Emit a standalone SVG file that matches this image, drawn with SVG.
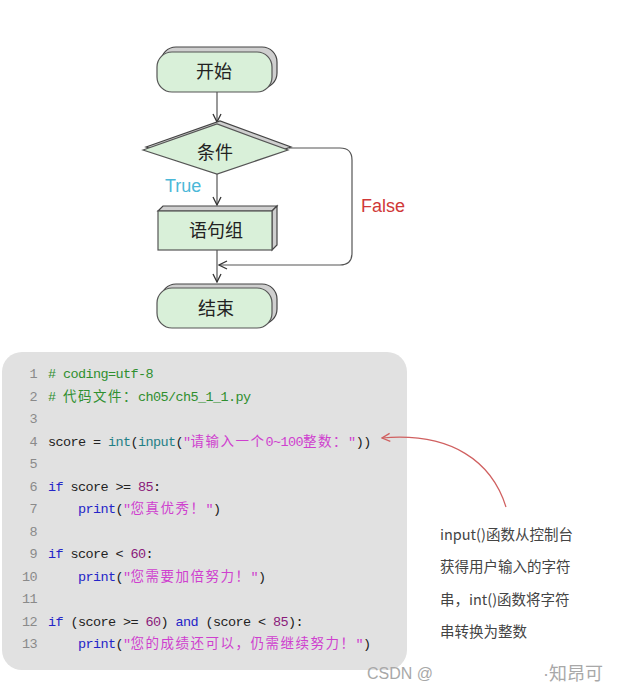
<svg xmlns="http://www.w3.org/2000/svg" width="621" height="692" viewBox="0 0 621 692">
<style>
.node{fill:#d9f0d9;stroke:#555;stroke-width:1.2}
.shd{fill:#cfcfcf;stroke:#444;stroke-width:1.2}
.lbl{font-family:"Noto Sans CJK SC","Noto Sans",sans-serif;font-size:18px;fill:#222;text-anchor:middle}
.conn{fill:none;stroke:#555;stroke-width:1.2}
.code{font-family:"Liberation Mono","DejaVu Sans Mono",monospace;font-size:13.5px;letter-spacing:-0.6px;fill:#222}
.ln{font-family:"Liberation Mono","DejaVu Sans Mono",monospace;font-size:13.5px;letter-spacing:-0.6px;fill:#8a8a8a;text-anchor:end}
.zh{font-family:"Noto Sans CJK SC",sans-serif;font-size:13.5px;letter-spacing:1.5px}
.cm{fill:#2f8f2f}
.kw{fill:#2424c8}
.bi{fill:#1f7f86}
.st{fill:#cf3fcf}
.num{fill:#8a1a7a}
.note{font-family:"Noto Sans CJK SC","Noto Sans",sans-serif;font-size:14.5px;fill:#444}
.wm{font-family:"Liberation Sans","Noto Sans CJK SC",sans-serif;fill:#a8a8a8}
</style>
<defs>
<marker id="ah" viewBox="0 0 10 10" refX="9" refY="5" markerWidth="10" markerHeight="10" markerUnits="userSpaceOnUse" orient="auto">
<path d="M1,1 L9,5 L1,9" fill="none" stroke="#333" stroke-width="1.3"/>
</marker>
<marker id="ahr" viewBox="0 0 10 10" refX="9" refY="5" markerWidth="10" markerHeight="10" markerUnits="userSpaceOnUse" orient="auto">
<path d="M1,1 L9,5 L1,9" fill="none" stroke="#d06060" stroke-width="1.3"/>
</marker>
</defs>
<rect width="621" height="692" fill="#ffffff"/>

<g id="connectors">
<path class="conn" d="M217,92 V122" marker-end="url(#ah)"/>
<path class="conn" d="M217,174 V205" marker-end="url(#ah)"/>
<path class="conn" d="M217,250 V282" marker-end="url(#ah)"/>
<path class="conn" d="M289,148 H340 Q352,148 352,160 V253 Q352,265 340,265 H219" marker-end="url(#ah)"/>
<text x="165" y="192" style="font-family:'Liberation Sans',sans-serif;font-size:18px;fill:#4bb8d8">True</text>
<text x="361" y="212" style="font-family:'Liberation Sans',sans-serif;font-size:18px;fill:#d03838">False</text>
</g>

<g id="start">
<rect class="shd" x="161" y="47" width="116" height="41" rx="15"/>
<rect class="node" x="157" y="52" width="115" height="40" rx="15"/>
<text class="lbl" x="214" y="78">开始</text>
</g>

<g id="cond">
<polygon class="shd" points="146,147 220,121 291,147 220,171"/>
<polygon class="node" points="143,150 217,124 288,150 217,174"/>
<text class="lbl" x="215" y="159">条件</text>
</g>

<g id="stmt">
<polygon class="shd" points="158,211 163,206 277,206 272,211"/>
<polygon class="shd" points="272,211 277,206 277,245 272,250"/>
<rect class="node" x="158" y="211" width="114" height="39"/>
<text class="lbl" x="216" y="237">语句组</text>
</g>

<g id="end">
<rect class="shd" x="161" y="284" width="116" height="40" rx="15"/>
<rect class="node" x="157" y="288" width="115" height="40" rx="15"/>
<text class="lbl" x="216" y="315">结束</text>
</g>

<g id="codepanel">
<rect x="2" y="352" width="405" height="318" rx="20" fill="#e1e1e1"/>
<text class="ln" x="37" y="378">1</text>
<text class="ln" x="37" y="400.5">2</text>
<text class="ln" x="37" y="423">3</text>
<text class="ln" x="37" y="445.5">4</text>
<text class="ln" x="37" y="468">5</text>
<text class="ln" x="37" y="490.5">6</text>
<text class="ln" x="37" y="513">7</text>
<text class="ln" x="37" y="535.5">8</text>
<text class="ln" x="37" y="558">9</text>
<text class="ln" x="37" y="580.5">10</text>
<text class="ln" x="37" y="603">11</text>
<text class="ln" x="37" y="625.5">12</text>
<text class="ln" x="37" y="648">13</text>

<text class="code" x="48" y="378" xml:space="preserve"><tspan class="cm"># coding=utf-8</tspan></text>
<text class="code" x="48" y="400.5" xml:space="preserve"><tspan class="cm"># <tspan class="zh">代码文件：</tspan>ch05/ch5_1_1.py</tspan></text>
<text class="code" x="48" y="445.5" xml:space="preserve">score = <tspan class="bi">int</tspan>(<tspan class="bi">input</tspan>(<tspan class="st">"<tspan class="zh">请输入一个</tspan>0~100<tspan class="zh">整数：</tspan>"</tspan>))</text>
<text class="code" x="48" y="490.5" xml:space="preserve"><tspan class="kw">if</tspan> score &gt;= <tspan class="num">85</tspan>:</text>
<text class="code" x="78" y="513" xml:space="preserve"><tspan class="kw">print</tspan>(<tspan class="st">"<tspan class="zh">您真优秀！</tspan>"</tspan>)</text>
<text class="code" x="48" y="558" xml:space="preserve"><tspan class="kw">if</tspan> score &lt; <tspan class="num">60</tspan>:</text>
<text class="code" x="78" y="580.5" xml:space="preserve"><tspan class="kw">print</tspan>(<tspan class="st">"<tspan class="zh">您需要加倍努力！</tspan>"</tspan>)</text>
<text class="code" x="48" y="625.5" xml:space="preserve"><tspan class="kw">if</tspan> (score &gt;= <tspan class="num">60</tspan>) <tspan class="kw">and</tspan> (score &lt; <tspan class="num">85</tspan>):</text>
<text class="code" x="78" y="648" xml:space="preserve"><tspan class="kw">print</tspan>(<tspan class="st">"<tspan class="zh">您的成绩还可以，仍需继续努力！</tspan>"</tspan>)</text>
</g>

<g id="annotation">
<path d="M506,507 C492,462 452,432 382,438" fill="none" stroke="#d06060" stroke-width="1.2" marker-end="url(#ahr)"/>
<text class="note" x="440" y="540">input()函数从控制台</text>
<text class="note" x="440" y="572">获得用户输入的字符</text>
<text class="note" x="440" y="605">串，int()函数将字符</text>
<text class="note" x="440" y="637">串转换为整数</text>
</g>

<g id="watermark">
<text class="wm" x="367" y="679" style="font-size:16px">CSDN @</text>
<text class="wm" x="543" y="680" style="font-size:18px">·知昂可</text>
</g>
</svg>
